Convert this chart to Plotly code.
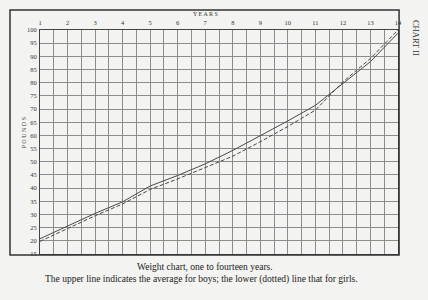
import plotly.graph_objects as go

# Average weight (pounds) by age (years)
ages = [1, 2, 3, 4, 5, 6, 7, 8, 9, 10, 11, 12, 13, 14]
boys = [20.8, 25.7, 30.4, 34.8, 40.8, 44.8, 49.2, 54.3, 59.8, 65.5, 71.4, 79.7, 88.0, 98.8]
girls = [19.8, 24.7, 29.5, 34.0, 39.5, 43.5, 47.7, 52.1, 57.6, 63.4, 69.6, 80.3, 89.2, 100.0]

year_ticks = list(range(1, 15))
pound_ticks = list(range(15, 101, 5))

PAPER = "#f3f3f1"
INK = "#4a4a4a"
GRID = "#8c8c8c"
SERIF = "Liberation Serif, DejaVu Serif, serif"

fig = go.Figure()
fig.add_trace(go.Scatter(x=ages, y=boys, mode="lines", name="Boys",
                         line=dict(color=INK, width=1)))
fig.add_trace(go.Scatter(x=ages, y=girls, mode="lines", name="Girls",
                         line=dict(color=INK, width=1, dash="4px,2px")))

fig.update_layout(
    width=428, height=300,
    margin=dict(l=40, r=30, t=30, b=46),
    paper_bgcolor=PAPER, plot_bgcolor=PAPER,
    showlegend=False,
    font=dict(family=SERIF, color="#222"),
)

fig.update_xaxes(
    range=[1, 14], side="top",
    tickvals=year_ticks, ticktext=[str(v) for v in year_ticks],
    tickfont=dict(size=6.5, family=SERIF, color="#333"),
    ticks="", ticklabelstandoff=1,
    showgrid=True, gridcolor=GRID, gridwidth=1,
    minor=dict(dtick=0.5, showgrid=True, gridcolor=GRID, gridwidth=1, tick0=1),
    showline=True, linecolor="#444", linewidth=1, mirror=True,
    zeroline=False,
)
fig.update_yaxes(
    range=[15, 100],
    tickvals=pound_ticks, ticktext=[str(v) for v in pound_ticks],
    tickfont=dict(size=6.5, family=SERIF, color="#333"),
    ticks="", ticklabelstandoff=1,
    showgrid=True, gridcolor=GRID, gridwidth=1,
    showline=True, linecolor="#444", linewidth=1, mirror=True,
    zeroline=False,
)

# Outer frame around chart and labels
fig.add_shape(type="rect", xref="paper", yref="paper",
              x0=-0.0838, x1=1.003, y0=-0.005, y1=1.089,
              line=dict(color="#333", width=1.5), layer="above")

# Axis titles and captions
def note(text, x, y, size, angle=0, color="#333"):
    fig.add_annotation(text=text, xref="paper", yref="paper", x=x, y=y,
                       xanchor="center", yanchor="middle", textangle=angle,
                       showarrow=False,
                       font=dict(size=size, family=SERIF, color=color))

note("Y E A R S", 0.461, 1.071, 6)
note("P O U N D S", -0.044, 0.54, 6, angle=-90)
note("CHART II", 1.05, 0.965, 8.5, angle=90)
note("Weight chart, one to fourteen years.", 0.461, -0.058, 9.5, color="#222")
note("The upper line indicates the average for boys; the lower (dotted) line that for girls.",
     0.45, -0.112, 9.5, color="#222")

fig.write_html("out.html")
